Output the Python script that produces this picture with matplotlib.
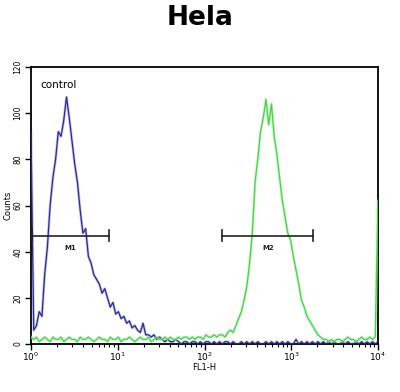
import numpy as np
import matplotlib
matplotlib.use("Agg")
import matplotlib.pyplot as plt
from matplotlib.ticker import LogLocator, NullFormatter, FixedLocator

title = "Hela"
x_label = "FL1-H"
y_label = "Counts"
control_label = "control"
x_decades = 4  # 10^0 .. 10^4
n_channels = 128

control_counts = [
    92, 6, 8, 14, 12, 30, 42, 60, 72, 80,
    92, 90, 97, 107, 98, 88, 78, 70, 58, 48,
    50, 38, 35, 30, 28, 26, 22, 24, 20, 16,
    18, 13, 14, 11, 12, 9, 10, 7, 8, 6,
    5, 9, 4, 4, 3, 4, 2, 3, 2, 1,
    2, 1, 1, 2, 1, 0, 1, 1, 0, 1,
    1, 0, 1, 0, 1, 1, 0, 1, 0, 1,
    0, 1, 1, 0, 1, 0, 0, 1, 0, 1,
    0, 1, 0, 1, 0, 0, 1, 0, 1, 0,
    1, 0, 1, 0, 1, 0, 0, 2, 0, 1,
    0, 1, 0, 1, 0, 1, 0, 1, 0, 1,
    0, 1, 0, 0, 1, 0, 1, 0, 0, 1,
    0, 1, 0, 1, 0, 1, 0, 1,
]

sample_counts = [
    3, 2, 3, 1, 2, 3, 2, 1, 3, 2,
    2, 3, 1, 2, 3, 2, 2, 1, 3, 2,
    2, 3, 2, 1, 2, 3, 2, 2, 1, 3,
    2, 2, 3, 1, 2, 2, 3, 2, 1, 2,
    3, 2, 2, 3, 1, 2, 3, 2, 2, 3,
    2, 3, 2, 2, 3, 2, 3, 3, 2, 3,
    2, 3, 3, 2, 4, 3, 3, 4, 3, 4,
    4, 3, 5, 6, 5, 8, 11, 14, 19, 25,
    35, 48, 70, 80, 92, 98, 106, 95, 104, 90,
    82, 72, 62, 55, 48, 45, 38, 32, 26, 19,
    16, 12, 10, 8, 6, 4, 3, 2, 2, 1,
    2, 1, 2, 2, 1, 2, 3, 2, 2, 1,
    2, 3, 2, 2, 3, 2, 3, 62,
]

gates = [("M1", 1.02, 8.0, 47), ("M2", 160.0, 1800.0, 47)]

channel_log = np.arange(n_channels) * x_decades / (n_channels - 1)
x = 10 ** channel_log

fig = plt.figure(figsize=(4.0, 3.92), dpi=100)
fig.patch.set_facecolor("white")
ax = fig.add_axes([0.0775, 0.1224, 0.8675, 0.7066])

ax.plot(x, control_counts, color="#8c8ce0", lw=2.0, alpha=0.5, zorder=2)
ax.plot(x, control_counts, color="#2a2a90", lw=0.9, zorder=3)
ax.plot(x, sample_counts, color="#a8eea8", lw=2.0, alpha=0.6, zorder=3.5)
ax.plot(x, sample_counts, color="#45d445", lw=0.9, zorder=4)

ax.set_xscale("log")
ax.set_xlim(1, 10 ** x_decades)
ax.set_ylim(0, 120)

ax.xaxis.set_major_locator(FixedLocator([1, 10, 100, 1000, 10000]))
ax.set_xticklabels([r"$10^0$", r"$10^1$", r"$10^2$", r"$10^3$", r"$10^4$"], fontsize=6.5)
ax.xaxis.set_minor_locator(LogLocator(base=10, subs=np.arange(2, 10), numticks=20))
ax.xaxis.set_minor_formatter(NullFormatter())
ax.tick_params(axis="x", which="major", length=4, width=1, pad=1)
ax.tick_params(axis="x", which="minor", length=2, width=0.8)

ax.set_yticks([0, 20, 40, 60, 80, 100, 120])
ax.set_yticklabels(["0", "20", "40", "60", "80", "100", "120"], fontsize=5.5, rotation=90, va="center")
ax.tick_params(axis="y", length=4, width=1, pad=2)

for s in ax.spines.values():
    s.set_linewidth(1.3)

ax.set_xlabel(x_label, fontsize=6, labelpad=0)
ax.set_ylabel(y_label, fontsize=6, labelpad=1)

for name, lo, hi, yv in gates:
    ax.plot([lo, hi], [yv, yv], color="#222222", lw=1.2, zorder=5)
    ax.plot([lo, lo], [yv - 2.5, yv + 2.5], color="#222222", lw=1.2, zorder=5)
    ax.plot([hi, hi], [yv - 2.5, yv + 2.5], color="#222222", lw=1.2, zorder=5)
    ax.text(np.sqrt(lo * hi), yv - 4, name, fontsize=5, fontweight="bold",
            ha="center", va="top", color="#222222")

ax.text(1.27, 112, control_label, fontsize=7.5, ha="left", va="center")

fig.text(0.5, 0.953, title, fontsize=19, fontweight="bold", ha="center", va="center")

fig.savefig("out.png", dpi=100, facecolor="white")
